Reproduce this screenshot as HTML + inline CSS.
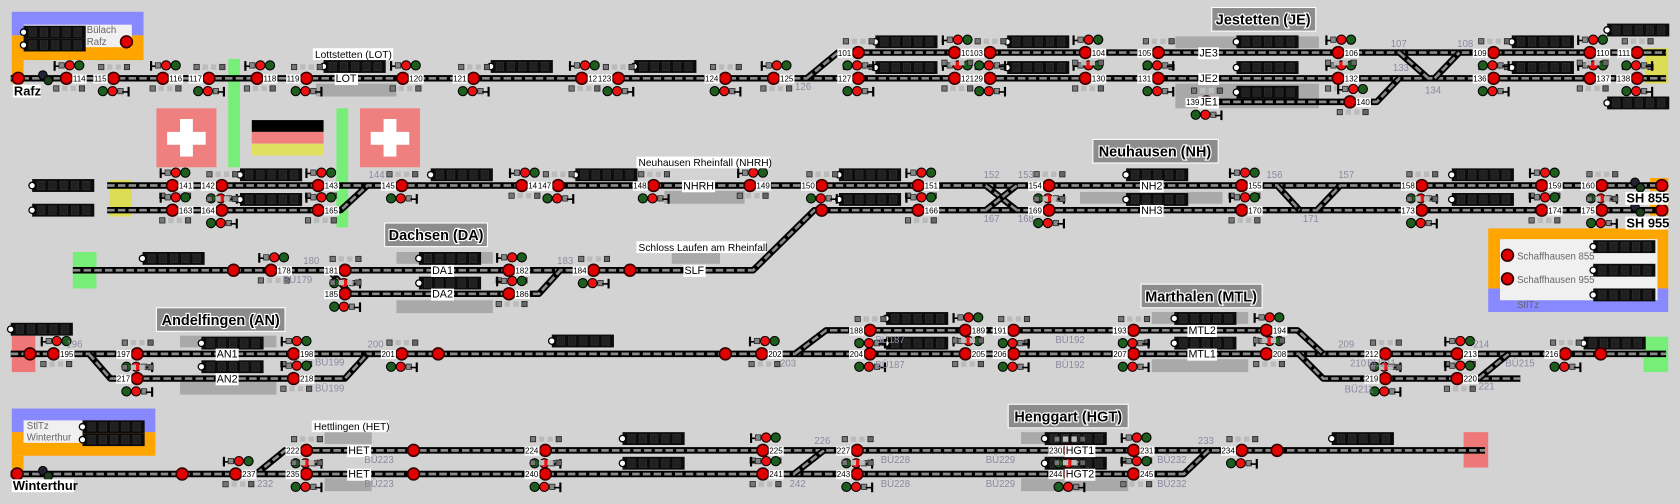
<!DOCTYPE html>
<html><head><meta charset="utf-8"><style>
html,body{margin:0;padding:0;background:#d3d3d3;overflow:hidden}
svg{display:block}
text{font-family:"Liberation Sans",sans-serif}
.n{font-size:7.5px;fill:#000}
.t{font-size:10px;fill:#000;text-anchor:middle}
.g{font-size:9px;fill:#8a8aa0}
.st{font-size:13.5px;font-weight:bold;fill:#000;stroke:#fff;stroke-width:2.2px;paint-order:stroke;text-anchor:middle}
.w{font-size:9.5px;fill:#000}
.bx{font-size:9px;fill:#666}
.big{font-size:12px;font-weight:bold;fill:#000}
</style></head><body>
<svg id="s" xmlns="http://www.w3.org/2000/svg" width="1680" height="504" viewBox="0 0 1568 470" preserveAspectRatio="none">
<rect width="1568" height="470" fill="#d3d3d3"/>
<rect x="11" y="11" width="123" height="22" fill="#8888ff"/>
<rect x="11" y="33" width="123" height="23" fill="#ffa500"/>
<rect x="11" y="56" width="11" height="22" fill="#ffa500"/>
<rect x="22" y="23" width="101" height="21" fill="#f0f0f0"/>
<rect x="11" y="381" width="134" height="22" fill="#8888ff"/>
<rect x="11" y="403" width="134" height="22" fill="#ffa500"/>
<rect x="11" y="425" width="11" height="20" fill="#ffa500"/>
<rect x="22" y="392" width="56" height="21" fill="#f0f0f0"/>
<rect x="1389" y="213" width="168" height="56" fill="#ffa500"/>
<rect x="1389" y="269" width="168" height="22" fill="#8888ff"/>
<rect x="1400" y="223" width="147" height="57" fill="#f0f0f0"/>
<rect x="1540" y="166" width="17" height="12" fill="#ffa500"/>
<rect x="1540" y="189" width="17" height="12" fill="#ffa500"/>
<rect x="102" y="168" width="21" height="34" fill="#dddd55"/>
<rect x="1536" y="45" width="21" height="33" fill="#dddd55"/>
<rect x="68" y="235" width="22" height="34" fill="#77ee77"/>
<rect x="11" y="313" width="22" height="34" fill="#ee7777"/>
<rect x="1534" y="314" width="23" height="33" fill="#77ee77"/>
<rect x="1366" y="403" width="23" height="33" fill="#ee7777"/>
<rect x="146" y="101" width="56" height="55" fill="#f08080"/>
<rect x="168" y="111" width="12" height="35" fill="#fff"/><rect x="156" y="123" width="36" height="12" fill="#fff"/>
<rect x="336" y="101" width="56" height="55" fill="#f08080"/>
<rect x="358" y="111" width="12" height="35" fill="#fff"/><rect x="346" y="123" width="36" height="12" fill="#fff"/>
<rect x="213" y="55" width="11" height="101" fill="#77ee77"/>
<rect x="314" y="101" width="11" height="111" fill="#77ee77"/>
<rect x="235" y="112" width="67" height="11" fill="#000"/>
<rect x="235" y="123" width="67" height="11" fill="#f08080"/>
<rect x="235" y="134" width="67" height="11" fill="#e0e060"/>
<g fill="#a9a9a9">
<rect x="295" y="78" width="75" height="12"/>
<rect x="1097" y="34" width="134" height="11"/>
<rect x="1097" y="78" width="134" height="23"/>
<rect x="620" y="178" width="75" height="12"/>
<rect x="1008" y="179" width="133" height="11"/>
<rect x="370" y="235" width="90" height="11"/>
<rect x="370" y="280" width="90" height="12"/>
<rect x="627" y="235" width="45" height="11"/>
<rect x="168" y="313" width="90" height="11"/>
<rect x="168" y="356" width="90" height="12"/>
<rect x="1075" y="291" width="90" height="11"/>
<rect x="1075" y="335" width="90" height="12"/>
<rect x="303" y="403" width="44" height="11"/>
<rect x="303" y="446" width="44" height="12"/>
<rect x="953" y="403" width="77" height="11"/>
<rect x="953" y="446" width="100" height="12"/>
</g>
<g>
<rect x="1131" y="7" width="97" height="22" fill="#8c8c8c" stroke="#fff" stroke-width="1"/>
<rect x="1020" y="130" width="117" height="22" fill="#8c8c8c" stroke="#fff" stroke-width="1"/>
<rect x="359" y="208" width="96" height="22" fill="#8c8c8c" stroke="#fff" stroke-width="1"/>
<rect x="146" y="287" width="120" height="22" fill="#8c8c8c" stroke="#fff" stroke-width="1"/>
<rect x="1065" y="265" width="113" height="22" fill="#8c8c8c" stroke="#fff" stroke-width="1"/>
<rect x="941" y="377" width="112" height="22" fill="#8c8c8c" stroke="#fff" stroke-width="1"/>
</g>
<text class="st" x="1179" y="23">Jestetten (JE)</text>
<text class="st" x="1078" y="146">Neuhausen (NH)</text>
<text class="st" x="407" y="224">Dachsen (DA)</text>
<text class="st" x="206" y="303">Andelfingen (AN)</text>
<text class="st" x="1121" y="281">Marthalen (MTL)</text>
<text class="st" x="997" y="393">Henggart (HGT)</text>
<g id="shapes"></g>
<g id="labels">
<rect x="292" y="45" width="75" height="11" fill="#fff"/><text class="w" x="294" y="54">Lottstetten (LOT)</text>
<rect x="594" y="146" width="125" height="11" fill="#fff"/><text class="w" x="596" y="155">Neuhausen Rheinfall (NHRH)</text>
<rect x="594" y="225" width="121" height="11" fill="#fff"/><text class="w" x="596" y="234">Schloss Laufen am Rheinfall</text>
<rect x="291" y="392" width="72" height="11" fill="#fff"/><text class="w" x="293" y="401">Hettlingen (HET)</text>
<text class="bx" x="81" y="31">Bülach</text>
<text class="bx" x="81" y="42">Rafz</text>
<text class="bx" x="25" y="400">StlTz</text>
<text class="bx" x="25" y="411">Winterthur</text>
<text class="bx" x="1416" y="242">Schaffhausen 855</text>
<text class="bx" x="1416" y="264">Schaffhausen 955</text>
<text class="bx" x="1416" y="287">StlTz</text>
<rect x="12" y="79" width="26" height="12" fill="#fff"/><text class="big" x="13" y="89">Rafz</text>
<rect x="11" y="447" width="58" height="12" fill="#fff"/><text class="big" x="12" y="457">Winterthur</text>
<rect x="1517" y="179" width="40" height="12" fill="#fff"/><text class="big" x="1518" y="189">SH 855</text>
<rect x="1517" y="202" width="40" height="12" fill="#fff"/><text class="big" x="1518" y="212">SH 955</text>
</g>
<g id="tl">
<text class="t" x="323" y="76.5">LOT</text>
<text class="t" x="1128" y="52.5">JE3</text>
<text class="t" x="1128" y="76.5">JE2</text>
<text class="t" x="1128" y="98.5">JE1</text>
<text class="t" x="652" y="176.5">NHRH</text>
<text class="t" x="1075" y="176.5">NH2</text>
<text class="t" x="1075" y="199.5">NH3</text>
<text class="t" x="413" y="255.5">DA1</text>
<text class="t" x="413" y="277.5">DA2</text>
<text class="t" x="648" y="255.5">SLF</text>
<text class="t" x="212" y="333.5">AN1</text>
<text class="t" x="212" y="356.5">AN2</text>
<text class="t" x="1122" y="311.5">MTL2</text>
<text class="t" x="1122" y="333.5">MTL1</text>
<text class="t" x="335" y="423.5">HET</text>
<text class="t" x="335" y="445.5">HET</text>
<text class="t" x="1008" y="423.5">HGT1</text>
<text class="t" x="1008" y="445.5">HGT2</text>
</g>
<g id="gl">
<text class="g" x="742" y="84">126</text><text class="g" x="1298" y="44">107</text><text class="g" x="1360" y="44">108</text>
<text class="g" x="1300" y="66">133</text><text class="g" x="1330" y="87">134</text><text class="g" x="344" y="166">144</text>
<text class="g" x="918" y="166">152</text><text class="g" x="950" y="166">153</text><text class="g" x="918" y="207">167</text><text class="g" x="950" y="207">168</text>
<text class="g" x="1182" y="166">156</text><text class="g" x="1249" y="166">157</text><text class="g" x="1216" y="207">171</text>
<text class="g" x="283" y="246">180</text><text class="g" x="520" y="246">183</text><text class="g" x="264" y="264">BÜ179</text>
<text class="g" x="62" y="324">196</text><text class="g" x="343" y="324">200</text><text class="g" x="294" y="341">BÜ199</text><text class="g" x="294" y="365">BÜ199</text>
<text class="g" x="728" y="342">203</text><text class="g" x="817" y="320">BÜ187</text><text class="g" x="817" y="343">BÜ187</text>
<text class="g" x="985" y="320">BÜ192</text><text class="g" x="985" y="343">BÜ192</text>
<text class="g" x="1249" y="324">209</text><text class="g" x="1260" y="342">210</text><text class="g" x="1255" y="366">BÜ211</text><text class="g" x="1276" y="342">BÜ211</text>
<text class="g" x="1375" y="324">214</text><text class="g" x="1405" y="342">BÜ215</text><text class="g" x="1380" y="363">221</text>
<text class="g" x="760" y="414">226</text><text class="g" x="240" y="454">232</text><text class="g" x="1118" y="414">233</text><text class="g" x="737" y="454">242</text>
<text class="g" x="340" y="432">BÜ223</text><text class="g" x="340" y="454">BÜ223</text><text class="g" x="822" y="432">BÜ228</text><text class="g" x="822" y="454">BÜ228</text>
<text class="g" x="920" y="432">BÜ229</text><text class="g" x="920" y="454">BÜ229</text><text class="g" x="1080" y="432">BÜ232</text><text class="g" x="1080" y="454">BÜ232</text>
</g>
<g id="nums">
<text class="n r" x="68" y="76">114</text><text class="n l" x="100" y="76">115</text><text class="n r" x="158" y="76">116</text><text class="n l" x="189" y="76">117</text>
<text class="n r" x="246" y="76">118</text><text class="n l" x="280" y="76">119</text><text class="n r" x="382" y="76">120</text><text class="n l" x="436" y="76">121</text>
<text class="n r" x="549" y="76">122</text><text class="n l" x="571" y="76">123</text><text class="n l" x="671" y="76">124</text><text class="n r" x="728" y="76">125</text>
<text class="n l" x="795" y="76">127</text><text class="n r" x="897" y="76">128</text><text class="n l" x="918" y="76">129</text><text class="n r" x="1019" y="76">130</text>
<text class="n l" x="1075" y="76">131</text><text class="n r" x="1255" y="76">132</text><text class="n l" x="1388" y="76">136</text><text class="n r" x="1490" y="76">137</text><text class="n l" x="1522" y="76">138</text>
<text class="n l" x="795" y="52">101</text><text class="n r" x="897" y="52">102</text><text class="n l" x="918" y="52">103</text><text class="n r" x="1019" y="52">104</text>
<text class="n l" x="1075" y="52">105</text><text class="n r" x="1255" y="52">106</text><text class="n l" x="1388" y="52">109</text><text class="n r" x="1490" y="52">110</text><text class="n l" x="1522" y="52">111</text>
<text class="n l" x="1120" y="98">139</text><text class="n r" x="1266" y="98">140</text>
<text class="n r" x="167" y="176">141</text><text class="n l" x="201" y="176">142</text><text class="n r" x="303" y="176">143</text><text class="n l" x="369" y="176">145</text>
<text class="n r" x="493" y="176">146</text><text class="n l" x="515" y="176">147</text><text class="n l" x="604" y="176">148</text><text class="n r" x="706" y="176">149</text>
<text class="n l" x="761" y="176">150</text><text class="n r" x="863" y="176">151</text><text class="n l" x="973" y="176">154</text><text class="n r" x="1165" y="176">155</text>
<text class="n l" x="1321" y="176">158</text><text class="n r" x="1445" y="176">159</text><text class="n l" x="1489" y="176">160</text>
<text class="n r" x="167" y="199">163</text><text class="n l" x="201" y="199">164</text><text class="n r" x="303" y="199">165</text><text class="n r" x="863" y="199">166</text>
<text class="n l" x="973" y="199">169</text><text class="n r" x="1165" y="199">170</text><text class="n l" x="1321" y="199">173</text><text class="n r" x="1445" y="199">174</text><text class="n l" x="1489" y="199">175</text>
<text class="n r" x="259" y="255">178</text><text class="n l" x="316" y="255">181</text><text class="n r" x="481" y="255">182</text><text class="n l" x="548" y="255">184</text>
<text class="n l" x="316" y="277">185</text><text class="n r" x="481" y="277">186</text>
<text class="n r" x="56" y="333">195</text><text class="n l" x="122" y="333">197</text><text class="n r" x="280" y="333">198</text><text class="n l" x="369" y="333">201</text>
<text class="n r" x="717" y="333">202</text><text class="n l" x="806" y="333">204</text><text class="n r" x="907" y="333">205</text><text class="n l" x="940" y="333">206</text>
<text class="n l" x="1052" y="333">207</text><text class="n r" x="1188" y="333">208</text><text class="n l" x="1287" y="333">212</text><text class="n r" x="1366" y="333">213</text><text class="n l" x="1455" y="333">216</text>
<text class="n l" x="806" y="311">188</text><text class="n r" x="907" y="311">189</text><text class="n l" x="940" y="311">191</text><text class="n l" x="1052" y="311">193</text><text class="n r" x="1188" y="311">194</text>
<text class="n l" x="122" y="356">217</text><text class="n r" x="280" y="356">218</text><text class="n l" x="1287" y="356">219</text><text class="n r" x="1366" y="356">220</text>
<text class="n l" x="280" y="423">222</text><text class="n l" x="503" y="423">224</text><text class="n r" x="718" y="423">225</text><text class="n l" x="794" y="423">227</text>
<text class="n l" x="992" y="423">230</text><text class="n r" x="1064" y="423">231</text><text class="n l" x="1153" y="423">234</text>
<text class="n r" x="226" y="445">237</text><text class="n l" x="280" y="445">235</text><text class="n l" x="503" y="445">240</text><text class="n r" x="718" y="445">241</text>
<text class="n l" x="794" y="445">243</text><text class="n l" x="992" y="445">244</text><text class="n r" x="1064" y="445">245</text>
</g>
</svg>
<script>
(function(){
var NS='http://www.w3.org/2000/svg';
var g=document.getElementById('shapes');
function el(t,a,p){var e=document.createElementNS(NS,t);for(var k in a)e.setAttribute(k,a[k]);(p||g).appendChild(e);return e;}
function T(pts){var p=pts.map(function(q){return q.join(',')}).join(' ');
 el('polyline',{points:p,fill:'none',stroke:'#000','stroke-width':6,'stroke-linejoin':'round'});
 el('polyline',{points:p,fill:'none',stroke:'#8a8a8a','stroke-width':2.5,'stroke-dasharray':'7 3'});}
function D(x,y){el('rect',{x:x,y:y,width:58,height:12,fill:'#0c0c0c'});
 for(var i=0;i<5;i++)el('rect',{x:x+5+i*10.5,y:y+2,width:7,height:8,fill:'#202020',stroke:'#333','stroke-width':.5});
 el('circle',{cx:x,cy:y+6,r:3,fill:'#fff',stroke:'#000','stroke-width':1.2});}
function S(x,y){el('circle',{cx:x,cy:y,r:5.5,fill:'#e00000',stroke:'#300','stroke-width':1.5});}
function HU(x,y){el('rect',{x:x,y:y-4,width:2,height:9,fill:'#000'});el('rect',{x:x,y:y,width:6,height:1.5,fill:'#000'});
 el('rect',{x:x+5,y:y-2.5,width:5,height:5,fill:'#888',stroke:'#222','stroke-width':.7});
 el('circle',{cx:x+15,cy:y,r:4.3,fill:'#ee1111',stroke:'#000','stroke-width':1});
 el('circle',{cx:x+24,cy:y,r:4.3,fill:'#1d5d1d',stroke:'#000','stroke-width':1});}
function HD(x,y){el('circle',{cx:x+4,cy:y,r:4.3,fill:'#1d5d1d',stroke:'#000','stroke-width':1});
 el('circle',{cx:x+13,cy:y,r:4.3,fill:'#ee1111',stroke:'#000','stroke-width':1});
 el('rect',{x:x+18,y:y-2.5,width:5,height:5,fill:'#888',stroke:'#222','stroke-width':.7});
 el('rect',{x:x+22,y:y,width:6,height:1.5,fill:'#000'});el('rect',{x:x+27,y:y-4,width:2,height:9,fill:'#000'});}
function Q(x,y){var c=['#777','#bbb','#bbb','#666'];for(var i=0;i<4;i++)el('rect',{x:x+i*8,y:y,width:5,height:5,fill:c[i],stroke:(i==0||i==3)?'#222':'none','stroke-width':.7});}
T([[10,73],[1555,73]]);
T([[753,73],[782,49],[1555,49]]);
T([[1131,95],[1285,95],[1306,73]]);
T([[1306,49],[1333,73]]);T([[1339,73],[1362,49]]);
T([[100,173],[1555,173]]);
T([[100,196],[318,196],[343,173]]);
T([[68,252],[703,252],[760,196],[1555,196]]);
T([[920,173],[949,196]]);T([[920,196],[949,173]]);
T([[1192,173],[1213,196]]);T([[1229,196],[1251,173]]);
T([[307,252],[327,274],[503,274],[523,252]]);
T([[10,330],[1555,330]]);
T([[83,330],[103,353],[322,353],[343,330]]);
T([[742,330],[771,308],[1211,308],[1235,330]]);
T([[1212,330],[1235,353],[1419,353]]);T([[1380,353],[1408,330]]);
T([[239,442],[266,420],[1386,420]]);
T([[10,442],[1105,442],[1128,420]]);
T([[741,442],[769,420]]);
[[22,24],[22,36],[302,56],[458,56],[592,56],[817,33],[817,57],[940,33],[940,57],[1154,33],[1154,57],[1154,80],[1411,33],[1411,57],[1500,22],[1500,90],
[30,167],[30,190],[224,157],[224,180],[402,157],[537,157],[783,157],[783,180],[1051,157],[1051,180],[1355,157],[1355,180],
[1487,224],[1487,246],[1487,269],[133,235],[391,235],[391,258],[10,301],[188,314],[188,336],[827,291],[827,314],[1096,291],[1096,314],[1478,314],[515,312],
[77,392],[77,404],[581,403],[581,426],[975,403],[975,426],[1243,403]].forEach(function(d){D(d[0],d[1]);});
[[17,73],[118,39],[1551,173],[1551,196],[767,196],[218,252],[588,252],[28,330],[409,330],[677,330],[1494,330],[386,420],[1192,420],[16,442],[170,442],[386,442],[1407,238],[1407,260]].forEach(function(s){S(s[0],s[1]);});
[[40,73],[1526,173],[1526,196],[40,442]].forEach(function(s){el('circle',{cx:s[0],cy:s[1]-3,r:4,fill:'#223',stroke:'#000'});el('circle',{cx:s[0]+5,cy:s[1]+2,r:4,fill:'#1d3d1d',stroke:'#000'});});
var nums=document.getElementById('nums');
var ns=document.querySelectorAll('#nums text');
for(var i=0;i<ns.length;i++){var t=ns[i];var x=+t.getAttribute('x'),y=+t.getAttribute('y')-3;var r=t.classList.contains('r');
 var bb=t.getBBox();
 if(!r){t.setAttribute('x',x-bb.width);bb=t.getBBox();}
 var sx=r?x-6:x+6;
 var rc=el('rect',{x:bb.x-.5,y:bb.y,width:bb.width+1,height:bb.height,fill:'#fff'},nums);nums.insertBefore(rc,t);
 S(sx,y);
 if(r){HU(sx-12,y-12);Q(sx-12,y+7);}else{HD(sx-14,y+12);Q(sx-14,y-13);}
}
var tlg=document.getElementById('tl');
var tl=document.querySelectorAll('#tl text');
for(var j=0;j<tl.length;j++){var b=tl[j].getBBox();var rr=el('rect',{x:b.x-1,y:b.y,width:b.width+2,height:b.height,fill:'#fff'},tlg);tlg.insertBefore(rr,tl[j]);}
})();
</script>
</body></html>
